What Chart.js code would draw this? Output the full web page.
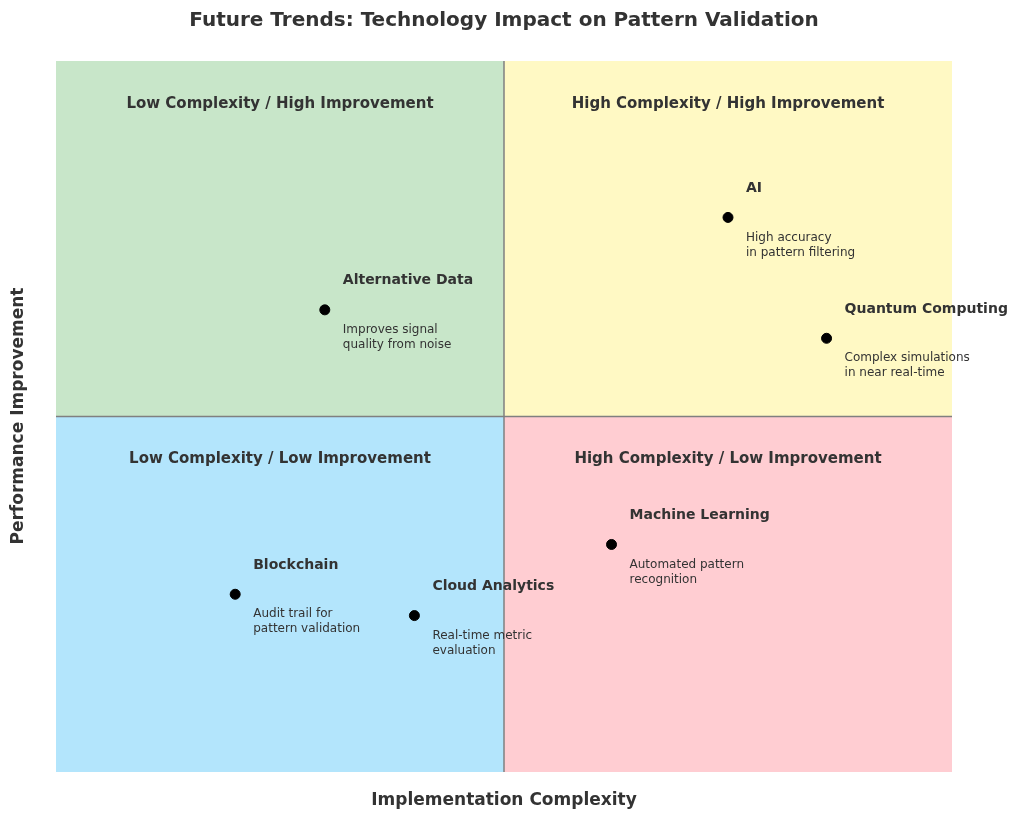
<!DOCTYPE html>
<html><head><meta charset="utf-8">
<script src="https://cdn.jsdelivr.net/npm/chart.js@4"></script>
<style>html,body{margin:0;padding:0;background:#fff}</style>
</head><body>
<canvas id="c" width="1024" height="823" style="width:1024px;height:823px"></canvas>
<script>
const names = ["AI","Quantum Computing","Alternative Data","Machine Learning","Blockchain","Cloud Analytics"];
const complexity = [7.5,8.6,3.0,6.2,2.0,4.0];
const improvement = [7.8,6.1,6.5,3.2,2.5,2.2];
const descriptions = [["High accuracy","in pattern filtering"],["Complex simulations","in near real-time"],["Improves signal","quality from noise"],["Automated pattern","recognition"],["Audit trail for","pattern validation"],["Real-time metric","evaluation"]];
const quadrantLabels = ["Low Complexity / High Improvement","High Complexity / High Improvement","Low Complexity / Low Improvement","High Complexity / Low Improvement"];
const quadrantColors = ["#c8e6c9","#fff9c4","#b3e5fc","#ffcdd2"];
const F = "'DejaVu Sans', sans-serif";

const bg = {
  id:'bg',
  beforeDatasetsDraw(ch){
    const {ctx, scales:{x,y}} = ch;
    const x0=x.getPixelForValue(0), x5=x.getPixelForValue(5), x10=x.getPixelForValue(10);
    const y0=y.getPixelForValue(0), y5=y.getPixelForValue(5), y10=y.getPixelForValue(10);
    ctx.save();
    const rects=[[x0,y10,x5,y5],[x5,y10,x10,y5],[x0,y5,x5,y0],[x5,y5,x10,y0]];
    rects.forEach((r,i)=>{
      ctx.fillStyle=quadrantColors[i];
      ctx.fillRect(r[0],r[1],r[2]-r[0],r[3]-r[1]);
      ctx.fillStyle='#333'; ctx.font='bold 15px '+F; ctx.textAlign='center'; ctx.textBaseline='middle';
      ctx.fillText(quadrantLabels[i],(r[0]+r[2])/2,r[1]+43);
    });
    ctx.strokeStyle='#808080'; ctx.lineWidth=1.5;
    ctx.beginPath(); ctx.moveTo(x5,y10); ctx.lineTo(x5,y0); ctx.moveTo(x0,y5); ctx.lineTo(x10,y5); ctx.stroke();
    ctx.fillStyle='#333'; ctx.font='bold 20px '+F; ctx.textAlign='center';
    ctx.fillText('Future Trends: Technology Impact on Pattern Validation',504,21);
    ctx.font='bold 17px '+F;
    ctx.fillText('Implementation Complexity',504,801);
    ctx.translate(19,416); ctx.rotate(-Math.PI/2);
    ctx.fillText('Performance Improvement',0,0);
    ctx.restore();
  },
  afterDatasetsDraw(ch){
    const {ctx, scales:{x,y}} = ch;
    ctx.save(); ctx.textAlign='left'; ctx.textBaseline='middle';
    names.forEach((n,i)=>{
      const px=x.getPixelForValue(complexity[i]), py=y.getPixelForValue(improvement[i]);
      ctx.fillStyle='#333'; ctx.font='bold 14px '+F;
      ctx.fillText(n,px+18,py-29);
      ctx.font='12px '+F;
      descriptions[i].forEach((d,j)=>ctx.fillText(d,px+18,py+20+j*15));
    });
    ctx.restore();
  }
};

new Chart(document.getElementById('c'),{
  type:'scatter',
  data:{datasets:[{data:complexity.map((v,i)=>({x:v,y:improvement[i]})),backgroundColor:'#000',borderColor:'#000',pointRadius:5,pointHoverRadius:5}]},
  options:{responsive:false,animation:false,
    layout:{padding:{left:56,right:72,top:61,bottom:51}},
    plugins:{legend:{display:false},tooltip:{enabled:false}},
    scales:{x:{min:0,max:10,display:false},y:{min:0,max:10,display:false}}},
  plugins:[bg]
});
</script>
</body></html>
